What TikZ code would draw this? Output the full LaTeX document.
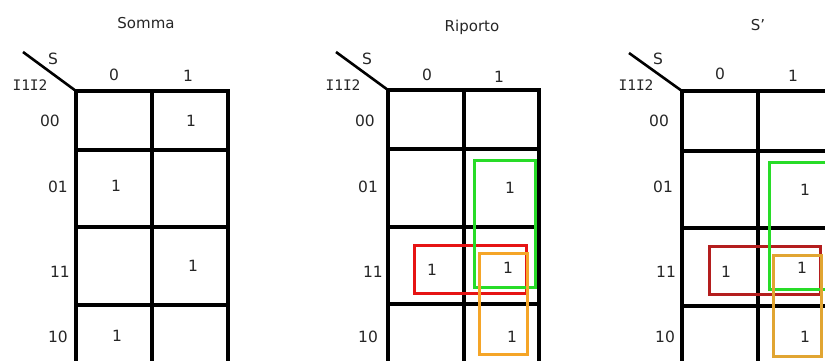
\documentclass[tikz,border=0pt]{standalone}
\usepackage{fontspec}
\setmainfont{DejaVu Sans}
\newfontfamily\monolbl{DejaVu Sans Mono}
\begin{document}
\begin{tikzpicture}[x=1pt,y=-1pt,
  grid/.style={line width=3.2pt,line cap=rect},
  diag/.style={line width=2.6pt},
  lbl/.style={font=\fontsize{15.5}{15.5}\selectfont,inner sep=0pt,text=black!85},
  var/.style={font=\monolbl\fontsize{14.5}{14.5}\selectfont,inner sep=0pt,text=black!85},
  ttl/.style={font=\fontsize{15}{15}\selectfont,inner sep=0pt,text=black!85},
  grp/.style={line width=3pt}]
\useasboundingbox (0,0) rectangle (825,361);
\clip (0,0) rectangle (825,361);
% ---------- Map 1: Somma ----------
\node[ttl] (t1) at (146,23) {Somma};
\coordinate (c1a) at (23,52);
\coordinate (c1b) at (76,91);
\draw[diag] (c1a) -- (c1b);
\node[lbl] (s1) at (53,59) {S};
\node[var] (i1) at (30,85) {I1I2};
\node[lbl] (h10) at (114,75) {0};
\node[lbl] (h11) at (188,76) {1};
\node[lbl] (r100) at (50,121) {00};
\node[lbl] (r101) at (58,187) {01};
\node[lbl] (r111) at (60,272) {11};
\node[lbl] (r110) at (58,337) {10};
\draw[grid] (76,370) -- (76,91) -- (228,91) -- (228,370);
\draw[grid] (152,91) -- (152,370);
\draw[grid] (76,150) -- (228,150);
\draw[grid] (76,227) -- (228,227);
\draw[grid] (76,305) -- (228,305);
\node[lbl] (o11) at (191,121) {1};
\node[lbl] (o12) at (116,186) {1};
\node[lbl] (o13) at (193,266) {1};
\node[lbl] (o14) at (117,336) {1};
% ---------- Map 2: Riporto ----------
\node[ttl] (t2) at (472,27) {Riporto};
\coordinate (c2a) at (336,52);
\coordinate (c2b) at (388,90);
\draw[diag] (c2a) -- (c2b);
\node[lbl] (s2) at (367,59) {S};
\node[var] (i2) at (343,85) {I1I2};
\node[lbl] (h20) at (427,75) {0};
\node[lbl] (h21) at (499,77) {1};
\node[lbl] (r200) at (365,121) {00};
\node[lbl] (r201) at (368,187) {01};
\node[lbl] (r211) at (373,272) {11};
\node[lbl] (r210) at (368,337) {10};
\draw[grid] (388,370) -- (388,90) -- (539,90) -- (539,370);
\draw[grid] (464,90) -- (464,370);
\draw[grid] (388,149) -- (539,149);
\draw[grid] (388,227) -- (539,227);
\draw[grid] (388,304) -- (539,304);
\node[lbl] (o21) at (510,188) {1};
\node[lbl] (o22) at (432,270) {1};
\node[lbl] (o23) at (508,268) {1};
\node[lbl] (o24) at (512,337) {1};
\draw[grp,draw={rgb,255:red,230;green,20;blue,20}] (414,245) rectangle (526,293);
\draw[grp,draw={rgb,255:red,40;green,220;blue,40}] (474,160) rectangle (535,287);
\draw[grp,draw={rgb,255:red,245;green,165;blue,40}] (479,253) rectangle (527,354);
% ---------- Map 3: s' ----------
\node[ttl] (t3) at (758,25) {S\char39};
\coordinate (c3a) at (629,53);
\coordinate (c3b) at (682,91);
\draw[diag] (c3a) -- (c3b);
\node[lbl] (s3) at (658,59) {S};
\node[var] (i3) at (636,85) {I1I2};
\node[lbl] (h30) at (720,74) {0};
\node[lbl] (h31) at (793,76) {1};
\node[lbl] (r300) at (659,121) {00};
\node[lbl] (r301) at (663,187) {01};
\node[lbl] (r311) at (666,272) {11};
\node[lbl] (r310) at (665,337) {10};
\draw[grid] (682,370) -- (682,91) -- (840,91);
\draw[grid] (758,91) -- (758,370);
\draw[grid] (682,151) -- (840,151);
\draw[grid] (682,228) -- (840,228);
\draw[grid] (682,306) -- (840,306);
\node[lbl] (o31) at (805,190) {1};
\node[lbl] (o32) at (726,272) {1};
\node[lbl] (o33) at (802,268) {1};
\node[lbl] (o34) at (805,337) {1};
\draw[grp,draw={rgb,255:red,180;green,30;blue,30}] (709,246) rectangle (820,294);
\draw[grp,draw={rgb,255:red,40;green,220;blue,40}] (769,162) rectangle (840,289);
\draw[grp,draw={rgb,255:red,225;green,165;blue,50}] (773,255) rectangle (821,356);
\end{tikzpicture}
\end{document}
